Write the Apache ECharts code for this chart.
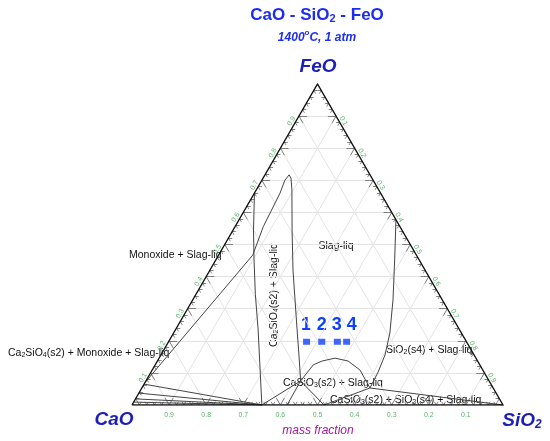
<!DOCTYPE html>
<html>
<head>
<meta charset="utf-8">
<script src="https://cdn.jsdelivr.net/npm/echarts@6/dist/echarts.min.js"></script>
<style>
  html, body { margin: 0; padding: 0; background: #fff; }
  #chart { width: 550px; height: 441px; }
</style>
</head>
<body>
<div id="chart"></div>
<script>
// compositions are [SiO2, FeO] mass fractions, CaO is the rest
const tickValues = [0.1, 0.2, 0.3, 0.4, 0.5, 0.6, 0.7, 0.8, 0.9];
const tickLabels = ["0.1", "0.2", "0.3", "0.4", "0.5", "0.6", "0.7", "0.8", "0.9"];

const monoxideBoundary = [
  [0, 0.66], [0.055, 0.545], [0.103, 0.452], [0.16, 0.345], [0.223, 0.234], [0.35, 0],
];
const ca2sio4Loop = [
  [0, 0.07], [0.092, 0.467], [0.076, 0.556], [0.069, 0.66], [0.062, 0.70],
  [0.065, 0.717], [0.075, 0.707], [0.096, 0.67], [0.159, 0.545], [0.224, 0.42],
  [0.276, 0.327], [0.328, 0.234], [0.372, 0.156], [0.417, 0.075],
];
const sio2Liquidus = [
  [0.423, 0.577], [0.482, 0.452], [0.54, 0.327], [0.583, 0.224],
  [0.604, 0.156], [0.612, 0.103], [0.615, 0.053],
];
const casio3Arch = [
  [0.417, 0.075], [0.426, 0.125], [0.444, 0.137], [0.474, 0.146],
  [0.514, 0.137], [0.56, 0.109], [0.615, 0.053],
];
const tieLines = [
  [[0, 0.065], [0.35, 0]],
  [[0, 0.037], [0.35, 0]],
  [[0, 0.019], [0.35, 0]],
  [[0, 0.009], [0.35, 0]],
  [[0.35, 0], [0.417, 0.075]],
  [[0.418, 0], [0.417, 0.075]],
  [[0.5175, 0], [0.417, 0.075]],
  [[0.5175, 0], [0.615, 0.053]],
  [[1, 0], [0.615, 0.053]],
];
const samplePoints = [[0.372, 0.197], [0.413, 0.197], [0.455, 0.197], [0.48, 0.197]];
const sampleNames = ["1", "2", "3", "4"];

const SQ = Math.sqrt(3) / 2;
const toXY = ([s, f]) => [s + f / 2, f * SQ];

const FONT = "Liberation Sans, Arial, sans-serif";
const GREEN = "#2f9e44";
const BLUE = "#1c2df0";
const NAVY = "#1b1fb8";

// grid lines every 0.1 for each component
const gridSegs = [];
tickValues.forEach((t) => {
  gridSegs.push({ coords: [toXY([0, t]), toXY([1 - t, t])] });
  gridSegs.push({ coords: [toXY([t, 0]), toXY([t, 1 - t])] });
  gridSegs.push({ coords: [toXY([1 - t, 0]), toXY([0, 1 - t])] });
});

// edge ticks, small every 0.02, longer at 0.1
const tickSegs = [];
for (let i = 1; i < 50; i++) {
  const t = i * 0.02;
  const major = i % 5 === 0;
  const L = major ? 0.022 : 0.01;
  const edges = [
    [toXY([t, 0]), [[0.5, SQ], [-0.5, SQ]]],
    [toXY([0, t]), [[1, 0], [0.5, -SQ]]],
    [toXY([t, 1 - t]), [[-1, 0], [-0.5, -SQ]]],
  ];
  edges.forEach(([p, dirs]) => {
    dirs.forEach((d) => {
      tickSegs.push({ coords: [p, [p[0] + d[0] * L, p[1] + d[1] * L]] });
    });
  });
}

const curve = (pts) => ({ coords: pts.map(toXY) });

const tickLabelSeries = (pts, rotate, offset) => ({
  type: "scatter",
  symbolSize: 0,
  silent: true,
  data: pts.map((p, i) => ({ value: toXY(p), name: tickLabels[i] })),
  label: {
    show: true,
    position: "inside",
    formatter: "{b}",
    rotate: rotate,
    offset: offset,
    color: GREEN,
    fontSize: 7,
    fontFamily: FONT,
  },
});

const text = (x, y, str, rich, extra) => ({
  type: "text",
  x: x,
  y: y,
  silent: true,
  ...(extra || {}),
  style: {
    text: str,
    rich: rich,
    align: (extra && extra.align) || "left",
    verticalAlign: "middle",
    fontFamily: FONT,
  },
});

const regionRich = {
  n: { fontSize: 10.5, fontFamily: FONT, fill: "#111" },
  s: { fontSize: 7, fontFamily: FONT, fill: "#111", padding: [5, 0, 0, 0] },
};

const chart = echarts.init(document.getElementById("chart"));
chart.setOption({
  backgroundColor: "#fff",
  animation: false,
  grid: { left: 132, right: 47, top: 84, bottom: 36 },
  xAxis: { type: "value", min: 0, max: 1, show: false },
  yAxis: { type: "value", min: 0, max: SQ, show: false },
  series: [
    {
      type: "lines",
      coordinateSystem: "cartesian2d",
      silent: true,
      data: gridSegs,
      lineStyle: { color: "#e3e3e3", width: 1, opacity: 1 },
    },
    {
      type: "lines",
      coordinateSystem: "cartesian2d",
      silent: true,
      data: tickSegs,
      lineStyle: { color: "#666", width: 0.8, opacity: 1 },
    },
    {
      type: "lines",
      coordinateSystem: "cartesian2d",
      polyline: true,
      silent: true,
      data: [
        curve(monoxideBoundary),
        curve(ca2sio4Loop),
        curve(sio2Liquidus),
        curve(casio3Arch),
        ...tieLines.map(curve),
      ],
      lineStyle: { color: "#444", width: 1, opacity: 1 },
    },
    {
      type: "lines",
      coordinateSystem: "cartesian2d",
      polyline: true,
      silent: true,
      data: [curve([[0, 0], [1, 0], [0, 1], [0, 0]])],
      lineStyle: { color: "#111", width: 1.4, opacity: 1 },
    },
    tickLabelSeries(tickValues.map((t) => [1 - t, 0]), 0, [0, 10]),
    tickLabelSeries(tickValues.map((t) => [0, t]), 60, [-8, -4]),
    tickLabelSeries(tickValues.map((t) => [t, 1 - t]), -60, [8, -4]),
    {
      type: "scatter",
      symbol: "rect",
      symbolSize: [7, 6],
      silent: true,
      data: samplePoints.map(toXY),
      itemStyle: { color: "#1040ff" },
    },
  ],
  graphic: [
    text(317, 15, "{b|CaO - SiO}{s|2}{b| - FeO}", {
      b: { fontSize: 17, fontWeight: "bold", fontFamily: FONT, fill: BLUE },
      s: { fontSize: 11, fontWeight: "bold", fontFamily: FONT, fill: BLUE, padding: [7, 0, 0, 0] },
    }, { align: "center" }),
    text(317, 38, "{b|1400}{p|o}{b|C, 1 atm}", {
      b: { fontSize: 12, fontWeight: "bold", fontStyle: "italic", fontFamily: FONT, fill: BLUE },
      p: { fontSize: 8, fontWeight: "bold", fontStyle: "italic", fontFamily: FONT, fill: BLUE, padding: [0, 0, 11, 0] },
    }, { align: "center" }),
    text(318, 67, "{b|FeO}", {
      b: { fontSize: 19, fontWeight: "bold", fontStyle: "italic", fontFamily: FONT, fill: NAVY },
    }, { align: "center" }),
    text(114, 420, "{b|CaO}", {
      b: { fontSize: 19, fontWeight: "bold", fontStyle: "italic", fontFamily: FONT, fill: NAVY },
    }, { align: "center" }),
    text(522, 421, "{b|SiO}{s|2}", {
      b: { fontSize: 19, fontWeight: "bold", fontStyle: "italic", fontFamily: FONT, fill: NAVY },
      s: { fontSize: 12, fontWeight: "bold", fontStyle: "italic", fontFamily: FONT, fill: NAVY, padding: [8, 0, 0, 0] },
    }, { align: "center" }),
    text(318, 431, "{b|mass fraction}", {
      b: { fontSize: 12, fontStyle: "italic", fontFamily: FONT, fill: "#a0179e" },
    }, { align: "center" }),

    text(129, 255, "{n|Monoxide + Slag-liq}", regionRich),
    text(336, 246, "{n|Slag-liq}", regionRich, { align: "center" }),
    text(274, 295, "{n|Ca}{s|2}{n|SiO}{s|4}{n|(s2) + Slag-liq}", regionRich, { align: "center", rotation: Math.PI / 2 }),
    text(8, 353, "{n|Ca}{s|2}{n|SiO}{s|4}{n|(s2) + Monoxide + Slag-liq}", regionRich),
    text(386, 350, "{n|SiO}{s|2}{n|(s4) + Slag-liq}", regionRich),
    text(283, 383, "{n|CaSiO}{s|3}{n|(s2) + Slag-liq}", regionRich),
    text(330, 400, "{n|CaSiO}{s|3}{n|(s2) + SiO}{s|2}{n|(s4) + Slag-liq}", regionRich),

    ...sampleNames.map((nm, i) =>
      text([306, 321.7, 336.7, 351.7][i], 325, "{b|" + nm + "}", {
        b: { fontSize: 18, fontWeight: "bold", fontFamily: FONT, fill: "#1040ff" },
      }, { align: "center" })
    ),
  ],
});
</script>
</body>
</html>
